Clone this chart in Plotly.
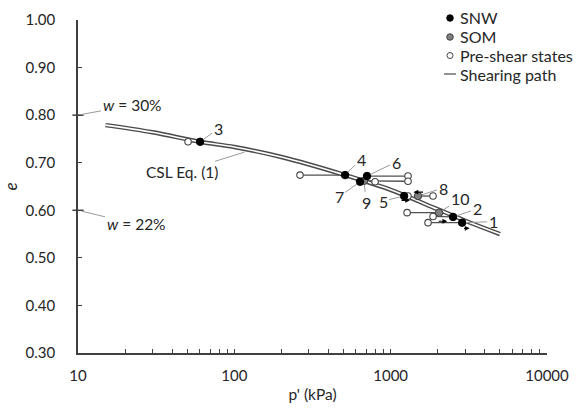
import numpy as np
import plotly.graph_objects as go

# ---- data ----
csl_p = [15, 30, 60, 100, 200, 500, 1000, 2000, 3000, 5000]
csl_e = [0.779, 0.764, 0.744, 0.733, 0.712, 0.675, 0.643, 0.602, 0.578, 0.550]

spec_id = ["1", "2", "3", "4", "5", "6", "7", "8", "9", "10"]
spec_type = ["SNW", "SNW", "SNW", "SNW", "SNW", "SNW", "SNW", "SOM", "SOM", "SOM"]
p_final = [2864, 2506, 60.4, 511, 1219, 706, 637, 1496, 676, 2042]
e_final = [0.574, 0.586, 0.744, 0.674, 0.630, 0.672, 0.660, 0.630, 0.662, 0.595]
p_pre = [1734, 1866, 50.6, 263, 1291, 1291, 795, 1866, 1291, 1274]
e_pre = [0.574, 0.587, 0.744, 0.674, 0.630, 0.672, 0.660, 0.630, 0.661, 0.595]

legend_names = ["SNW", "SOM", "Pre-shear states", "Shearing path"]

x_tick_vals = [10, 100, 1000, 10000]
x_tick_text = ["10", "100", "1000", "10000"]
x_minor_vals = [d * m for d in (10, 100, 1000) for m in range(2, 10)]

# label offsets (pixels) from each final point
lab_dx = [31, 24, 18, 16, -21, 29, -21, 25, 2, 21]
lab_dy = [-1, -8, -13, -16, 5, -14, 15, -8, 22, -14]

FONT = "Lato, 'Open Sans', sans-serif"
TXT = "#262626"

W, H = 577, 414
ML, MR, MT, MB = 78, 30, 20, 61
PW, PH = W - ML - MR, H - MT - MB


def pxx(x):
    return (x - ML) / PW


def pxy(y):
    return (H - MB - y) / PH


fig = go.Figure()

# shearing paths
px, py = [], []
for a, b, c, d in zip(p_pre, e_pre, p_final, e_final):
    px += [a, c, None]
    py += [b, d, None]
fig.add_trace(go.Scatter(x=px, y=py, mode="lines", line=dict(color="#505050", width=1.3),
                         name="Shearing path", showlegend=False, hoverinfo="skip"))

# CSL (double line)
fig.add_trace(go.Scatter(x=csl_p, y=csl_e, mode="lines",
                         line=dict(color="#4a4a4a", width=4.4, shape="spline"),
                         showlegend=False, hoverinfo="skip"))
fig.add_trace(go.Scatter(x=csl_p, y=csl_e, mode="lines",
                         line=dict(color="white", width=1.6, shape="spline"),
                         showlegend=False, hoverinfo="skip"))

# pre-shear states
fig.add_trace(go.Scatter(x=p_pre, y=e_pre, mode="markers",
                         marker=dict(color="white", size=6.5, line=dict(color="#444444", width=1.1)),
                         name="Pre-shear states", showlegend=False))

# final states
snw_p = [p for p, t in zip(p_final, spec_type) if t == "SNW"]
snw_e = [e for e, t in zip(e_final, spec_type) if t == "SNW"]
som_p = [p for p, t in zip(p_final, spec_type) if t == "SOM"]
som_e = [e for e, t in zip(e_final, spec_type) if t == "SOM"]
fig.add_trace(go.Scatter(x=som_p, y=som_e, mode="markers",
                         marker=dict(color="#7f7f7f", size=7.5, line=dict(color="#404040", width=1)),
                         name="SOM", showlegend=False))
fig.add_trace(go.Scatter(x=snw_p, y=snw_e, mode="markers",
                         marker=dict(color="black", size=7.5, line=dict(color="black", width=1)),
                         name="SNW", showlegend=False))

ann = []
for sid, p, e, dx, dy in zip(spec_id, p_final, e_final, lab_dx, lab_dy):
    ann.append(dict(x=np.log10(p), y=e, xref="x", yref="y", text=sid, showarrow=True,
                    arrowhead=0, arrowwidth=1, arrowcolor="#9a9a9a", ax=dx, ay=dy,
                    standoff=4, font=dict(family=FONT, size=16, color=TXT)))

ann.append(dict(x=np.log10(118), y=0.723, xref="x", yref="y", text="CSL Eq. (1)",
                showarrow=True, arrowhead=0, arrowwidth=1, arrowcolor="#9a9a9a",
                ax=-64, ay=20, standoff=1, font=dict(family=FONT, size=15.5, color=TXT)))
ann.append(dict(x=1.0, y=0.80, xref="x", yref="y", text="<i>w</i> = 30%",
                showarrow=True, arrowhead=0, arrowwidth=1, arrowcolor="#9a9a9a",
                ax=54, ay=-10, standoff=4, font=dict(family=FONT, size=15.5, color=TXT)))
ann.append(dict(x=1.0, y=0.60, xref="x", yref="y", text="<i>w</i> = 22%",
                showarrow=True, arrowhead=0, arrowwidth=1, arrowcolor="#9a9a9a",
                ax=58, ay=14, standoff=4, font=dict(family=FONT, size=15.5, color=TXT)))

# small direction arrows
for xh, yh, axp, ayp in [(np.log10(1330), 0.621, -10, 0),
                         (np.log10(1400), 0.638, 11, 0),
                         (np.log10(2300), 0.577, -10, 0),
                         (np.log10(3200), 0.562, -7, 0)]:
    ann.append(dict(x=xh, y=yh, xref="x", yref="y", text="", showarrow=True,
                    arrowhead=2, arrowsize=0.8, arrowwidth=1.2, arrowcolor="black",
                    ax=axp, ay=ayp, standoff=0))

# manual legend (text)
leg_rows = [18, 37, 55.5, 74]
for name, yy in zip(legend_names, leg_rows):
    ann.append(dict(x=pxx(458), y=pxy(yy), xref="paper", yref="paper", text=name,
                    showarrow=False, xanchor="left", yanchor="middle",
                    font=dict(family=FONT, size=16, color=TXT)))

shapes = [
    dict(type="line", xref="paper", yref="y", x0=-0.012, x1=0.012, y0=0.80, y1=0.80,
         line=dict(color="#404040", width=1.5)),
    dict(type="line", xref="paper", yref="y", x0=-0.012, x1=0.012, y0=0.60, y1=0.60,
         line=dict(color="#404040", width=1.5)),
]
# manual legend (symbols)
leg_fill = ["black", "#7f7f7f", "white"]
leg_edge = ["black", "#404040", "#444444"]
leg_size = [6.5, 6.5, 6]
for fc, ec, sz, yy in zip(leg_fill, leg_edge, leg_size, leg_rows[:3]):
    shapes.append(dict(type="circle", xref="paper", yref="paper",
                       xsizemode="pixel", ysizemode="pixel",
                       xanchor=pxx(450), yanchor=pxy(yy),
                       x0=-sz / 2, x1=sz / 2, y0=-sz / 2, y1=sz / 2,
                       fillcolor=fc, line=dict(color=ec, width=1)))
shapes.append(dict(type="line", xref="paper", yref="paper",
                   x0=pxx(444), x1=pxx(456), y0=pxy(leg_rows[3]), y1=pxy(leg_rows[3]),
                   line=dict(color="#555555", width=1.3)))

fig.update_layout(
    width=W, height=H,
    margin=dict(l=ML, r=MR, t=MT, b=MB, autoexpand=False),
    paper_bgcolor="white", plot_bgcolor="white",
    font=dict(family=FONT, size=15, color=TXT),
    annotations=ann,
    showlegend=False,
    shapes=shapes,
)
fig.update_xaxes(type="log", range=[1, 4], showline=True, linecolor="#404040", linewidth=1.5,
                 showgrid=False, zeroline=False, ticks="inside", ticklen=4, tickcolor="#404040",
                 tickvals=x_tick_vals, ticktext=x_tick_text, ticklabelstandoff=8,
                 minor=dict(ticks="inside", ticklen=4, tickcolor="#404040", tickvals=x_minor_vals,
                            showgrid=False),
                 title=dict(text="p' (kPa)", standoff=6, font=dict(family=FONT, size=15.5, color=TXT)))
fig.update_yaxes(range=[0.3, 1.0], dtick=0.1, tickformat=".2f", showline=True, linecolor="#404040",
                 linewidth=1.5, showgrid=False, zeroline=False, ticks="inside", ticklen=4,
                 tickcolor="#404040", ticklabelstandoff=18,
                 title=dict(text="<i>e</i>", standoff=7, font=dict(family=FONT, size=17, color=TXT)))

fig.write_html("out.html")
